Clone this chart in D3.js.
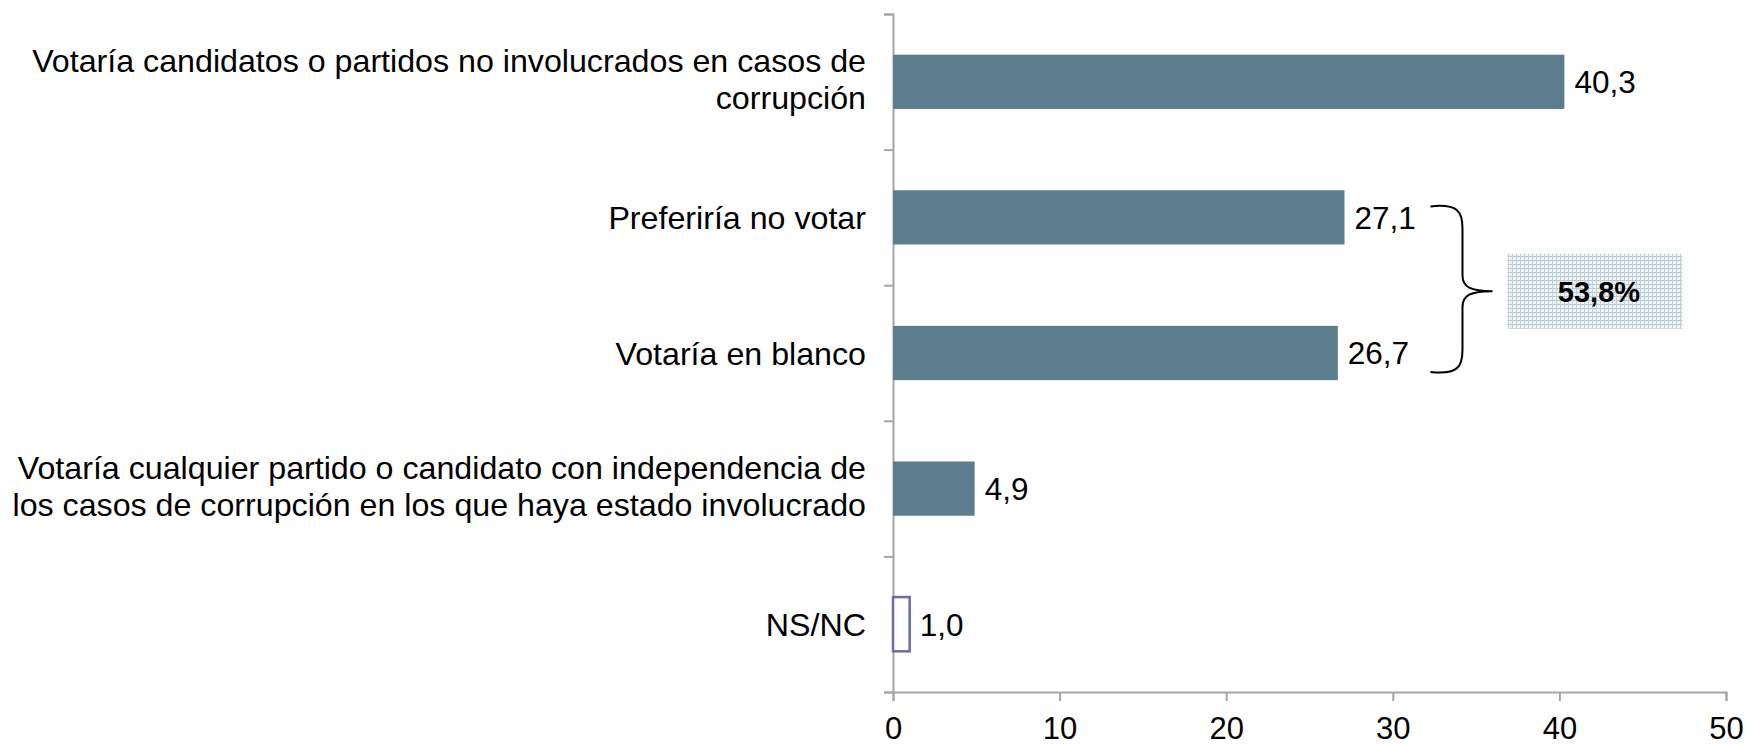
<!DOCTYPE html>
<meta charset="utf-8">
<script src="https://d3js.org/d3.v7.min.js"></script>
<title>Voto y corrupción</title>
<style>
body { margin: 0; background: #fff; font-family: Arial, "Liberation Sans", sans-serif; }
text { fill: #000; }
.axis path, .axis line { stroke: #a6a6a6; stroke-width: 2px; }
</style>
<body>
<svg id="chart" width="1746" height="746"></svg>
<script>

// data
var categories = [
  "Votaría candidatos o partidos no involucrados en casos de\ncorrupción",
  "Preferiría no votar",
  "Votaría en blanco",
  "Votaría cualquier partido o candidato con independencia de\nlos casos de corrupción en los que haya estado involucrado",
  "NS/NC"
];
var values = [40.3, 27.1, 26.7, 4.9, 1.0];
var outlined = [false, false, false, false, true];
var xTicks = [0, 10, 20, 30, 40, 50];
var groupLabel = "53,8%";   // sum of the two bracketed bars

var svg = d3.select("#chart"),
    margin = {top: 14, right: 20, bottom: 54, left: 893},
    width = +svg.attr("width"),
    height = +svg.attr("height");

var x = d3.scaleLinear()
    .domain([0, 50])
    .range([margin.left, width - margin.right]);

var y = d3.scaleBand()
    .domain(categories)
    .range([margin.top, height - margin.bottom])
    .paddingInner(0.6)
    .paddingOuter(0.3);

// boundaries between categories, for the left axis ticks
var yEdge = d3.scaleLinear()
    .domain([0, categories.length])
    .range([margin.top, height - margin.bottom]);

var fmt = function(v) { return d3.format(".1f")(v).replace(".", ","); };

// pattern for the total box
var defs = svg.append("defs");
var pat = defs.append("pattern")
    .attr("id", "dots")
    .attr("width", 4)
    .attr("height", 4)
    .attr("patternUnits", "userSpaceOnUse");
pat.append("rect").attr("width", 4).attr("height", 4).attr("fill", "#eef3f6");
pat.append("rect").attr("width", 4).attr("height", 1).attr("fill", "#b7c8d3");
pat.append("rect").attr("width", 1).attr("height", 4).attr("fill", "#c3d1da");

// axes
svg.append("g")
    .attr("class", "axis")
    .attr("transform", "translate(" + x(0) + ",0)")
    .call(d3.axisLeft(yEdge).ticks(categories.length).tickSize(9).tickSizeOuter(9).tickFormat(""))
    .call(function(g) { g.selectAll("text").remove(); });

svg.append("g")
    .attr("class", "axis x")
    .attr("transform", "translate(0," + (height - margin.bottom) + ")")
    .call(d3.axisBottom(x).tickValues(xTicks).tickSize(9).tickSizeOuter(9))
    .call(function(g) {
      g.selectAll("text")
        .attr("dy", null)
        .attr("y", 47)
        .style("font-size", "31px")
        .style("font-family", "Arial, 'Liberation Sans', sans-serif")
        .style("fill", "#000");
    });

// bars
svg.append("g")
  .selectAll("rect")
    .data(values)
  .enter().append("rect")
    .attr("x", x(0))
    .attr("y", function(d, i) { return y(categories[i]); })
    .attr("width", function(d) { return x(d) - x(0); })
    .attr("height", y.bandwidth())
    .attr("fill", function(d, i) { return outlined[i] ? "#fff" : "#5b7d8e"; })
    .attr("stroke", function(d, i) { return outlined[i] ? "#6b6ba6" : "none"; })
    .attr("stroke-width", 2.5);

// value labels
svg.append("g")
  .selectAll("text")
    .data(values)
  .enter().append("text")
    .attr("x", function(d) { return x(d) + 10; })
    .attr("y", function(d, i) { return y(categories[i]) + y.bandwidth() / 2; })
    .attr("dy", "0.36em")
    .style("font-size", "31.5px")
    .text(fmt);

// category labels
var lineH = 36.8;
svg.append("g")
  .selectAll("text")
    .data(categories)
  .enter().append("text")
    .attr("text-anchor", "end")
    .attr("transform", function(d) {
      var n = d.split("\n").length;
      var shift = n > 1 ? -3 : 0;
      return "translate(" + (x(0) - 27) + "," + (y(d) + y.bandwidth() / 2 - (n - 1) * lineH / 2 + shift) + ")";
    })
    .style("font-size", "32.2px")
    .each(function(d) {
      var t = d3.select(this);
      d.split("\n").forEach(function(line, k) {
        t.append("tspan")
          .attr("x", 0)
          .attr("y", k * lineH)
          .attr("dy", "0.36em")
          .text(line);
      });
    });

// bracket grouping "Preferiría no votar" and "Votaría en blanco"
var yTop = y(categories[1]) + y.bandwidth() / 2 - 11,
    yBot = y(categories[2]) + y.bandwidth() / 2 + 19,
    yMid = (yTop + yBot) / 2 + 2,
    bx0 = x(d3.max([values[1], values[2]])) + 86,
    bx1 = bx0 + 32,
    bx2 = bx1 + 30;

svg.append("path")
    .attr("fill", "none")
    .attr("stroke", "#000")
    .attr("stroke-width", 2)
    .attr("d", "M" + bx0 + "," + yTop +
      " C" + (bx1 - 4) + "," + (yTop - 3) + " " + bx1 + "," + (yTop + 6) + " " + bx1 + "," + (yTop + 22) +
      " L" + bx1 + "," + (yMid - 16) +
      " C" + bx1 + "," + (yMid - 4) + " " + (bx1 + 8) + "," + yMid + " " + bx2 + "," + yMid +
      " C" + (bx1 + 8) + "," + yMid + " " + bx1 + "," + (yMid + 4) + " " + bx1 + "," + (yMid + 16) +
      " L" + bx1 + "," + (yBot - 22) +
      " C" + bx1 + "," + (yBot - 6) + " " + (bx1 - 4) + "," + (yBot + 3) + " " + bx0 + "," + yBot);

// total box
var boxW = 175, boxH = 75, boxX = bx2 + 15;
svg.append("rect")
    .attr("x", boxX)
    .attr("y", yMid - boxH / 2)
    .attr("width", boxW)
    .attr("height", boxH)
    .attr("fill", "url(#dots)");

svg.append("text")
    .attr("x", boxX + boxW / 2 + 4)
    .attr("y", yMid)
    .attr("dy", "0.36em")
    .attr("text-anchor", "middle")
    .style("font-size", "29px")
    .style("font-weight", "bold")
    .text(groupLabel);

</script>
</body>
